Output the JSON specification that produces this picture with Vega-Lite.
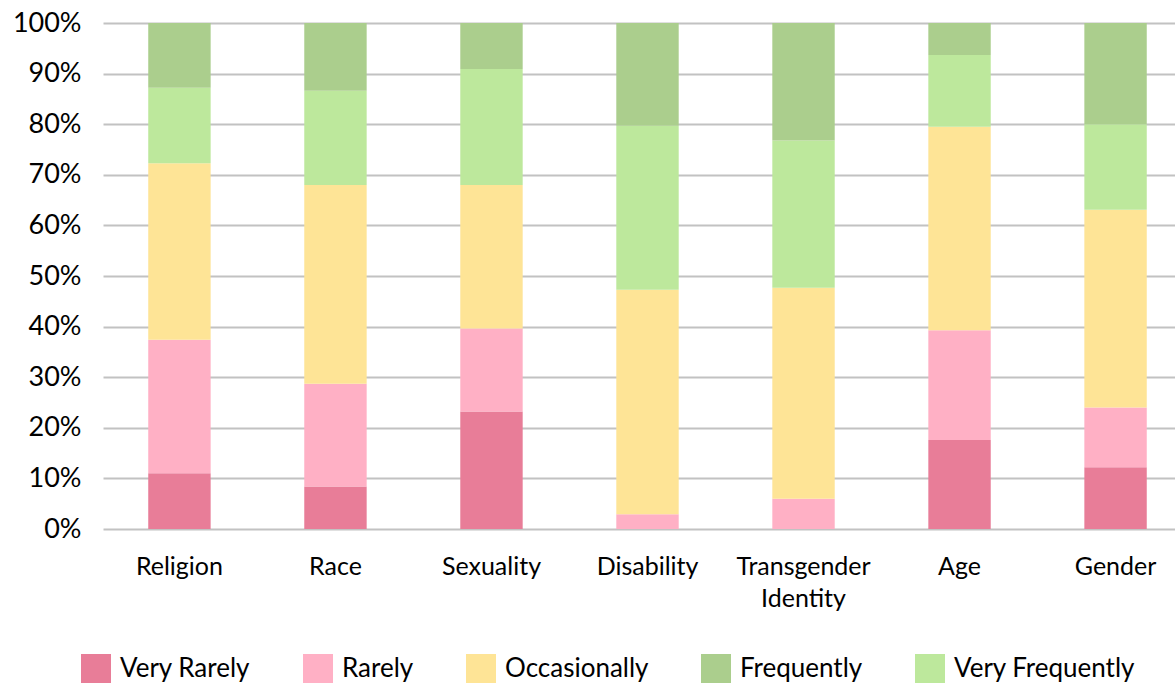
{
  "$schema": "https://vega.github.io/schema/vega-lite/v6.json",
  "autosize": {"type": "none"},
  "padding": {"left": 103, "top": 23, "right": 0, "bottom": 154},
  "width": 1072,
  "height": 506,
  "background": "white",
  "config": {"view": {"stroke": null}, "font": "Lato"},
  "data": {"values": [
    {"cat": "Religion", "resp": "Very Rarely", "o": 1, "v": 11.0},
    {"cat": "Religion", "resp": "Rarely", "o": 2, "v": 26.4},
    {"cat": "Religion", "resp": "Occasionally", "o": 3, "v": 34.9},
    {"cat": "Religion", "resp": "Very Frequently", "o": 4, "v": 14.9},
    {"cat": "Religion", "resp": "Frequently", "o": 5, "v": 12.8},
    {"cat": "Race", "resp": "Very Rarely", "o": 1, "v": 8.4},
    {"cat": "Race", "resp": "Rarely", "o": 2, "v": 20.3},
    {"cat": "Race", "resp": "Occasionally", "o": 3, "v": 39.3},
    {"cat": "Race", "resp": "Very Frequently", "o": 4, "v": 18.6},
    {"cat": "Race", "resp": "Frequently", "o": 5, "v": 13.4},
    {"cat": "Sexuality", "resp": "Very Rarely", "o": 1, "v": 23.2},
    {"cat": "Sexuality", "resp": "Rarely", "o": 2, "v": 16.4},
    {"cat": "Sexuality", "resp": "Occasionally", "o": 3, "v": 28.4},
    {"cat": "Sexuality", "resp": "Very Frequently", "o": 4, "v": 22.9},
    {"cat": "Sexuality", "resp": "Frequently", "o": 5, "v": 9.1},
    {"cat": "Disability", "resp": "Very Rarely", "o": 1, "v": 0},
    {"cat": "Disability", "resp": "Rarely", "o": 2, "v": 2.9},
    {"cat": "Disability", "resp": "Occasionally", "o": 3, "v": 44.4},
    {"cat": "Disability", "resp": "Very Frequently", "o": 4, "v": 32.4},
    {"cat": "Disability", "resp": "Frequently", "o": 5, "v": 20.3},
    {"cat": "Transgender Identity", "resp": "Very Rarely", "o": 1, "v": 0},
    {"cat": "Transgender Identity", "resp": "Rarely", "o": 2, "v": 6.0},
    {"cat": "Transgender Identity", "resp": "Occasionally", "o": 3, "v": 41.7},
    {"cat": "Transgender Identity", "resp": "Very Frequently", "o": 4, "v": 29.1},
    {"cat": "Transgender Identity", "resp": "Frequently", "o": 5, "v": 23.2},
    {"cat": "Age", "resp": "Very Rarely", "o": 1, "v": 17.6},
    {"cat": "Age", "resp": "Rarely", "o": 2, "v": 21.7},
    {"cat": "Age", "resp": "Occasionally", "o": 3, "v": 40.2},
    {"cat": "Age", "resp": "Very Frequently", "o": 4, "v": 14.2},
    {"cat": "Age", "resp": "Frequently", "o": 5, "v": 6.3},
    {"cat": "Gender", "resp": "Very Rarely", "o": 1, "v": 12.2},
    {"cat": "Gender", "resp": "Rarely", "o": 2, "v": 11.8},
    {"cat": "Gender", "resp": "Occasionally", "o": 3, "v": 39.1},
    {"cat": "Gender", "resp": "Very Frequently", "o": 4, "v": 16.9},
    {"cat": "Gender", "resp": "Frequently", "o": 5, "v": 20.0}
  ]},
  "mark": {"type": "bar"},
  "encoding": {
    "x": {
      "field": "cat", "type": "nominal",
      "sort": ["Religion", "Race", "Sexuality", "Disability", "Transgender Identity", "Age", "Gender"],
      "scale": {"range": [0, 1089], "paddingInner": 0.6, "paddingOuter": 0.29},
      "axis": {
        "title": null, "labelAngle": 0, "labelFont": "Lato", "labelFontSize": 25,
        "labelColor": "#000000", "labelPadding": 25, "ticks": false, "domain": false,
        "labelExpr": "split(datum.label, ' ')", "labelLineHeight": 32
      }
    },
    "y": {
      "field": "v", "type": "quantitative", "stack": "zero",
      "scale": {"domain": [0, 100], "nice": false},
      "axis": {
        "title": null, "values": [0, 10, 20, 30, 40, 50, 60, 70, 80, 90, 100],
        "labelExpr": "datum.value + '%'", "labelFont": "Lato", "labelFontSize": 27,
        "labelColor": "#000000", "labelPadding": 22, "ticks": false, "domain": false,
        "grid": true, "gridColor": "#c2c2c2", "gridWidth": 2
      }
    },
    "color": {
      "field": "resp", "type": "nominal",
      "scale": {
        "domain": ["Very Rarely", "Rarely", "Occasionally", "Frequently", "Very Frequently"],
        "range": ["#e87d98", "#ffb0c5", "#fee496", "#abce8d", "#bde89c"]
      },
      "legend": {
        "title": null, "orient": "none", "legendX": -22, "legendY": 631,
        "direction": "horizontal", "symbolType": "square", "symbolSize": 900,
        "symbolStrokeWidth": 0, "labelFont": "Lato", "labelFontSize": 26,
        "labelColor": "#000000", "labelOffset": 9, "columnPadding": 52, "labelLimit": 300
      }
    },
    "order": {"field": "o", "type": "quantitative"}
  }
}
